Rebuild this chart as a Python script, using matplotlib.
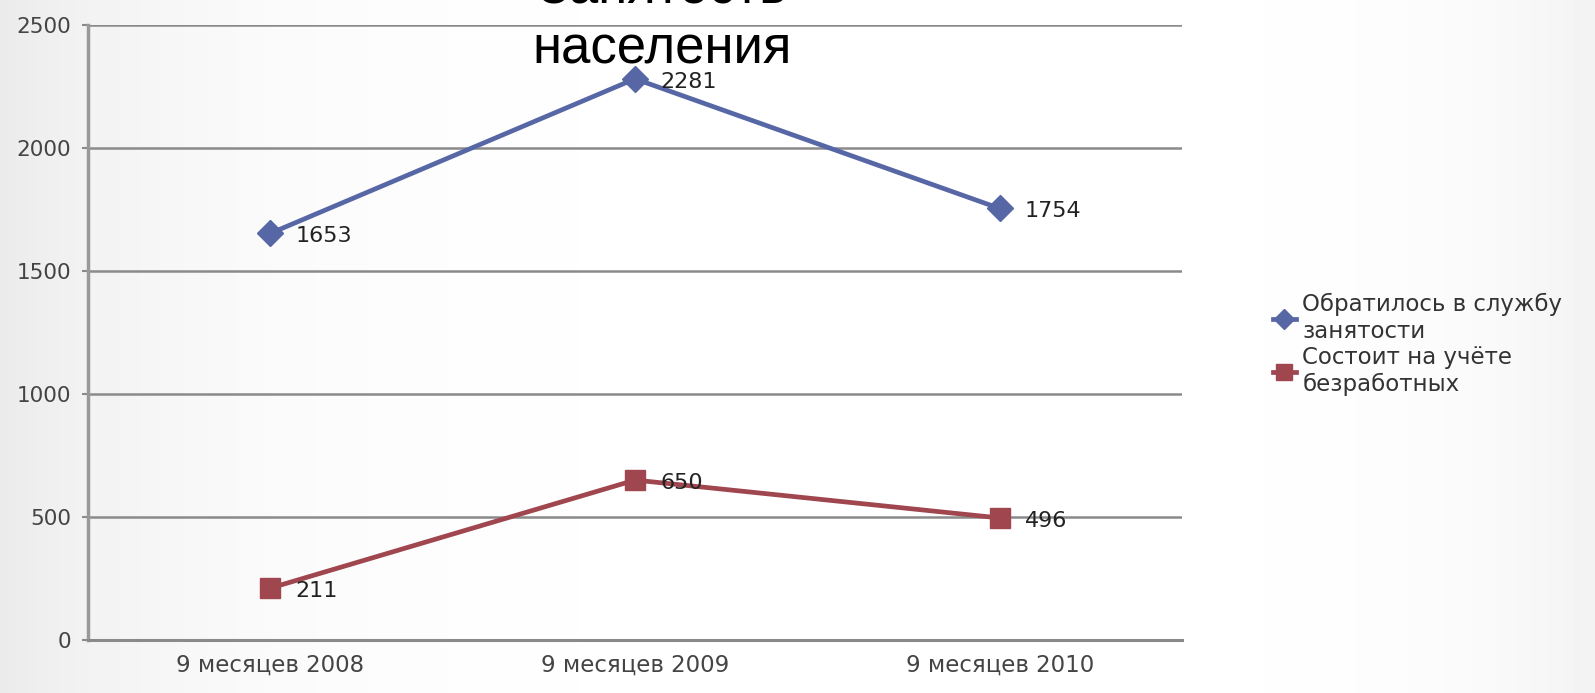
import numpy as np
import matplotlib.pyplot as plt

# Data
periods = ["9 месяцев 2008", "9 месяцев 2009", "9 месяцев 2010"]
applied = [1653, 2281, 1754]
registered = [211, 650, 496]
series_names = ["Обратилось в службу\nзанятости", "Состоит на учёте\nбезработных"]

plt.rcParams['font.family'] = ['DejaVu Sans']

fig = plt.figure(figsize=(15.95, 6.93), dpi=100)

# Background gradient (gray at the left edge, white in the middle, light gray at right)
bg = fig.add_axes([0, 0, 1, 1], zorder=-10)
xs = np.linspace(0, 1, 400)
shade = 1 - 0.08 * np.exp(-xs / 0.12) - 0.05 * np.exp(-(1 - xs) / 0.08)
bg.imshow(np.tile(shade, (10, 1)), cmap='gray', vmin=0, vmax=1, aspect='auto',
          extent=[0, 1, 0, 1])
bg.axis('off')

ax = fig.add_axes([0.0552, 0.0765, 0.6859, 0.8875])
ax.patch.set_alpha(0)
x = np.arange(len(periods))

ax.plot(x, applied, color='#5767a6', lw=3.4, marker='D', ms=13,
        label=series_names[0], zorder=3)
ax.plot(x, registered, color='#a0464f', lw=3.4, marker='s', ms=15,
        label=series_names[1], zorder=3)

for xi, v in zip(x, applied):
    ax.annotate(str(v), (xi, v), xytext=(18, -2), textcoords='offset points',
                va='center', ha='left', fontsize=16, color='#222222')
for xi, v in zip(x, registered):
    ax.annotate(str(v), (xi, v), xytext=(18, -2), textcoords='offset points',
                va='center', ha='left', fontsize=16, color='#222222')

ax.set_xlim(-0.5, 2.5)
ax.set_ylim(0, 2500)
ax.set_yticks(range(0, 2501, 500))
ax.set_xticks(x)
ax.set_xticklabels(periods)
ax.grid(axis='y', color='#8a8a8a', lw=1.8)
ax.set_axisbelow(True)
for s in ['top', 'right']:
    ax.spines[s].set_visible(False)
ax.spines['left'].set_color('#999999')
ax.spines['left'].set_linewidth(2.5)
ax.spines['bottom'].set_color('#8a8a8a')
ax.spines['bottom'].set_linewidth(2.2)
ax.tick_params(axis='y', length=4, width=1.5, color='#8a8a8a', pad=8,
               labelsize=15.5, labelcolor='#444444')
ax.tick_params(axis='x', length=0, pad=10, labelsize=16.5, labelcolor='#444444')

ax.legend(loc='center left', bbox_to_anchor=(1.064, 0.48), frameon=False,
          fontsize=16.5, handlelength=1.0, handletextpad=0.3,
          labelspacing=0.15, labelcolor='#333333', markerscale=0.8)

# Title, partly cut off by the top edge
fig.text(0.415, 1 - 3 / 693, "Занятость", fontsize=38, family='Liberation Sans',
         ha='center', va='baseline')
fig.text(0.415, 1 - 64 / 693, "населения", fontsize=38, family='Liberation Sans',
         ha='center', va='baseline')

fig.savefig("out.png", dpi=100)
